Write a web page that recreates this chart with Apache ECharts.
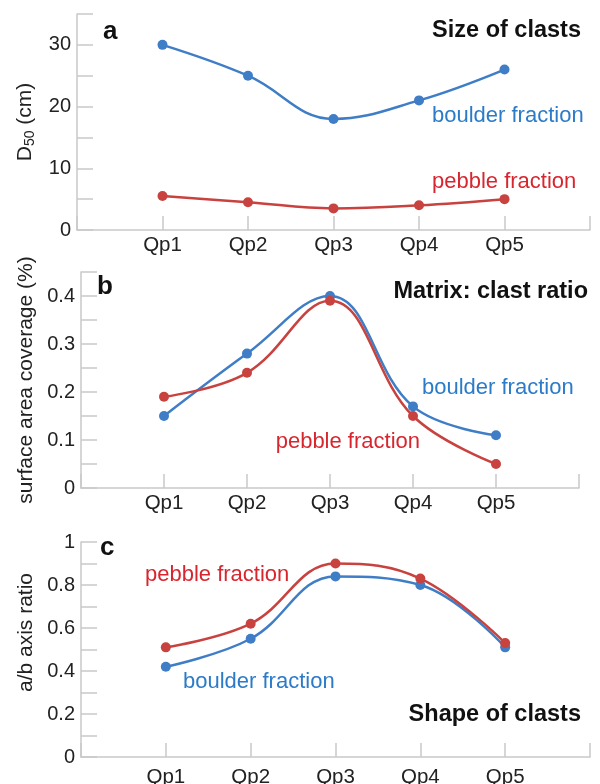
<!DOCTYPE html>
<html>
<head>
<meta charset="utf-8">
<script src="https://cdn.jsdelivr.net/npm/echarts@6/dist/echarts.min.js"></script>
<style>
  html, body { margin: 0; padding: 0; background: #fff; }
  #chart { width: 600px; height: 784px; }
</style>
</head>
<body>
<div id="chart"></div>
<script>
  // data
  var categories = ['Qp1', 'Qp2', 'Qp3', 'Qp4', 'Qp5'];
  var sizeBoulder = [30, 25, 18, 21, 26];
  var sizePebble = [5.5, 4.5, 3.5, 4, 5];
  var matrixBoulder = [0.15, 0.28, 0.40, 0.17, 0.11];
  var matrixPebble = [0.19, 0.24, 0.39, 0.15, 0.05];
  var shapeBoulder = [0.42, 0.55, 0.84, 0.80, 0.51];
  var shapePebble = [0.51, 0.62, 0.90, 0.83, 0.53];

  var BLUE = '#3f7dc6';
  var RED = '#c8423f';
  var BLUE_TXT = '#2b7bc8';
  var RED_TXT = '#d8262f';
  var AXIS = '#c9c9c9';
  var FONT = '"Liberation Sans", Arial, sans-serif';

  function pts(arr) {
    return arr.map(function (v, i) { return [i + 1, v]; });
  }

  function xAxisFor(idx, margin) {
    return {
      type: 'value', gridIndex: idx, min: 0, max: 6, interval: 1,
      axisLine: { show: true, lineStyle: { color: AXIS, width: 1.5 } },
      axisTick: { show: true, inside: true, length: 14, lineStyle: { color: AXIS, width: 1.5 } },
      splitLine: { show: false },
      axisLabel: {
        margin: margin, color: '#222', fontSize: 20.5, fontFamily: FONT,
        formatter: function (v) { return categories[v - 1] || ''; }
      }
    };
  }

  function yAxisFor(idx, max, interval, labelStep, name, gap, extra) {
    var ax = {
      type: 'value', gridIndex: idx, min: 0, max: max, interval: interval,
      axisLine: { show: true, lineStyle: { color: AXIS, width: 1.5 } },
      axisTick: { show: true, inside: true, length: 16, lineStyle: { color: AXIS, width: 1.5 } },
      splitLine: { show: false },
      axisLabel: {
        margin: 6, color: '#222', fontSize: 20, fontFamily: FONT,
        formatter: function (v) {
          var k = Math.round(v / labelStep * 1000) / 1000;
          if (Math.abs(k - Math.round(k)) > 1e-6) return '';
          return String(Math.round(v * 100) / 100);
        }
      },
      name: name,
      nameLocation: 'middle',
      nameRotate: 90,
      nameGap: gap,
      nameTextStyle: { color: '#222', fontSize: 21, fontFamily: FONT }
    };
    if (extra) Object.assign(ax.nameTextStyle, extra);
    return ax;
  }

  function line(idx, data, color) {
    return {
      type: 'line', xAxisIndex: idx, yAxisIndex: idx,
      data: pts(data), smooth: 0.4,
      symbol: 'circle', symbolSize: 10,
      lineStyle: { color: color, width: 2.5 },
      itemStyle: { color: color },
      z: color === RED ? 3 : 2
    };
  }

  function txt(x, y, text, color, size, bold, align) {
    return {
      type: 'text', x: x, y: y, z: 10,
      style: {
        text: text, fill: color,
        font: (bold ? 'bold ' : '') + size + 'px ' + FONT,
        align: align || 'left', verticalAlign: 'middle'
      }
    };
  }

  var chart = echarts.init(document.getElementById('chart'));
  var option = {
    animation: false,
    backgroundColor: '#fff',
    grid: [
      { left: 77, top: 14, right: 10, height: 216, outerBoundsMode: 'none' },
      { left: 81, top: 272, right: 21, height: 216, outerBoundsMode: 'none' },
      { left: 81, top: 542, right: 10, height: 215, outerBoundsMode: 'none' }
    ],
    xAxis: [xAxisFor(0, 5), xAxisFor(1, 5), xAxisFor(2, 10)],
    yAxis: [
      yAxisFor(0, 35, 5, 10, 'D{sub|50} (cm)', 40, {
        rich: { sub: { fontSize: 14, verticalAlign: 'bottom', padding: [9, 0, 0, 0], fontFamily: FONT, color: '#222' } }
      }),
      yAxisFor(1, 0.45, 0.05, 0.1, 'surface area coverage (%)', 42),
      yAxisFor(2, 1, 0.1, 0.2, 'a/b axis ratio', 38, { padding: [0, 0, 0, 34] })
    ],
    series: [
      line(0, sizeBoulder, BLUE),
      line(0, sizePebble, RED),
      line(1, matrixBoulder, BLUE),
      line(1, matrixPebble, RED),
      line(2, shapeBoulder, BLUE),
      line(2, shapePebble, RED)
    ],
    graphic: [
      txt(103, 32, 'a', '#111', 26, true),
      txt(581, 31, 'Size of clasts', '#111', 23.5, true, 'right'),
      txt(432, 116, 'boulder fraction', BLUE_TXT, 22),
      txt(432, 182, 'pebble fraction', RED_TXT, 22),

      txt(97, 287, 'b', '#111', 26, true),
      txt(588, 292, 'Matrix: clast ratio', '#111', 23.5, true, 'right'),
      txt(422, 388, 'boulder fraction', BLUE_TXT, 22),
      txt(420, 442, 'pebble fraction', RED_TXT, 22, false, 'right'),

      txt(100, 548, 'c', '#111', 26, true),
      txt(145, 575, 'pebble fraction', RED_TXT, 22),
      txt(183, 682, 'boulder fraction', BLUE_TXT, 22),
      txt(581, 715, 'Shape of clasts', '#111', 23.5, true, 'right')
    ]
  };
  chart.setOption(option);
</script>
</body>
</html>
